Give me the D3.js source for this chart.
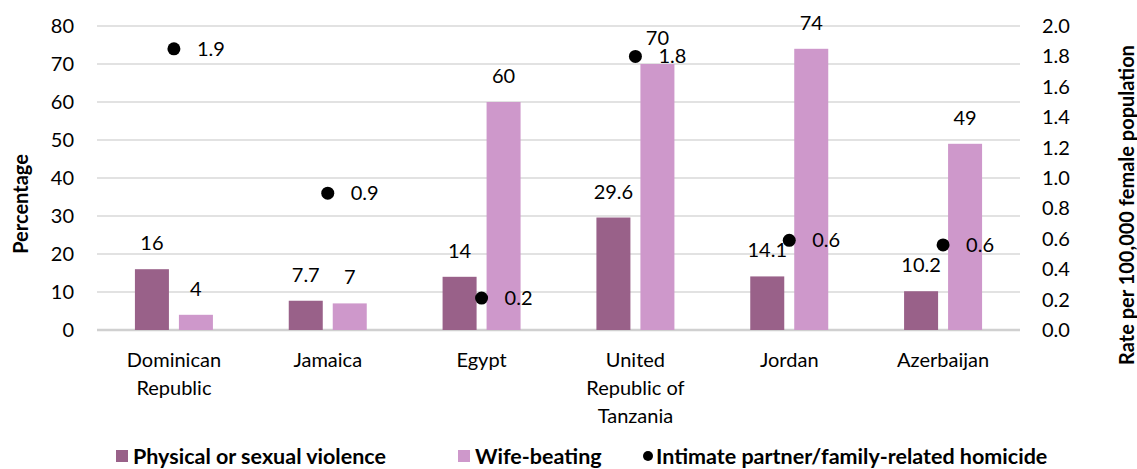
<!DOCTYPE html>
<html>
<head>
<meta charset="utf-8">
<script src="https://cdn.jsdelivr.net/npm/d3@7"></script>
<style>
  html, body { margin: 0; padding: 0; background: #fff; }
  svg { display: block; font-family: Lato, "Open Sans", sans-serif; }
</style>
</head>
<body>
<svg id="chart" width="1137" height="469"></svg>
<script>
// ---- data ----
const categories = [["Dominican", "Republic"], ["Jamaica"], ["Egypt"], ["United", "Republic of", "Tanzania"], ["Jordan"], ["Azerbaijan"]];
const seriesNames = ["Physical or sexual violence", "Wife-beating", "Intimate partner/family-related homicide"];
const physicalViolence = [16, 7.7, 14, 29.6, 14.1, 10.2];
const wifeBeating = [4, 7, 60, 70, 74, 49];
const homicideRate = [1.85, 0.9, 0.21, 1.8, 0.59, 0.56];
const leftTicks = [0, 10, 20, 30, 40, 50, 60, 70, 80];
const rightTicks = [0, 0.2, 0.4, 0.6, 0.8, 1.0, 1.2, 1.4, 1.6, 1.8, 2.0];
const colors = ["#996189", "#CE98CB", "#000000"];

// ---- layout ----
const svg = d3.select("#chart");
const plot = { left: 97, right: 1020, top: 26, bottom: 330 };
const fs = 20;

const keys = categories.map((c, i) => i);
const x0 = d3.scaleBand().domain(keys).range([plot.left, plot.right]).padding(0);
const x1 = d3.scaleBand().domain([0, 1]).range([-39, 39]).paddingInner(0.227);
const yL = d3.scaleLinear().domain([0, 80]).range([plot.bottom, plot.top]);
const yR = d3.scaleLinear().domain([0, 2]).range([plot.bottom, plot.top]);

// gridlines
svg.append("g").selectAll("line").data(leftTicks).join("line")
  .attr("x1", plot.left).attr("x2", plot.right)
  .attr("y1", d => yL(d)).attr("y2", d => yL(d))
  .attr("stroke", d => d === 0 ? "#d0d0d0" : "#d9d9d9")
  .attr("stroke-width", d => d === 0 ? 2.5 : 1.3);

// left axis
const axL = svg.append("g").attr("transform", `translate(${plot.left - 23},0)`)
  .call(d3.axisLeft(yL).tickValues(leftTicks).tickSize(0).tickPadding(0).tickFormat(d3.format("d")));
axL.select(".domain").remove();
axL.selectAll("text").attr("font-size", fs).attr("fill", "#000").attr("font-family", "Lato");

// right axis
const axR = svg.append("g").attr("transform", `translate(${plot.right + 22},0)`)
  .call(d3.axisRight(yR).tickValues(rightTicks).tickSize(0).tickPadding(0).tickFormat(d3.format(".1f")));
axR.select(".domain").remove();
axR.selectAll("text").attr("font-size", fs).attr("fill", "#000").attr("font-family", "Lato");

// axis titles
svg.append("text").attr("transform", "translate(28,204) rotate(-90)")
  .attr("text-anchor", "middle").attr("font-size", 20).attr("font-weight", "bold").text("Percentage");
svg.append("text").attr("transform", "translate(1134,205) rotate(-90)")
  .attr("text-anchor", "middle").attr("font-size", 20).attr("font-weight", "bold").text("Rate per 100,000 female population");

// bars
const barSeries = [physicalViolence, wifeBeating];
barSeries.forEach((vals, s) => {
  const g = svg.append("g");
  g.selectAll("rect").data(vals).join("rect")
    .attr("x", (d, i) => x0(i) + x0.bandwidth() / 2 + x1(s))
    .attr("width", x1.bandwidth())
    .attr("y", d => yL(d))
    .attr("height", d => yL(0) - yL(d))
    .attr("fill", colors[s]);
  g.selectAll("text").data(vals).join("text")
    .attr("x", (d, i) => x0(i) + x0.bandwidth() / 2 + x1(s) + x1.bandwidth() / 2)
    .attr("y", d => yL(d) - 19)
    .attr("text-anchor", "middle").attr("font-size", fs)
    .text(d => d);
});

// homicide dots
const dg = svg.append("g");
dg.selectAll("circle").data(homicideRate).join("circle")
  .attr("cx", (d, i) => x0(i) + x0.bandwidth() / 2)
  .attr("cy", d => yR(d)).attr("r", 6.5).attr("fill", "#000");
dg.selectAll("text").data(homicideRate).join("text")
  .attr("x", (d, i) => x0(i) + x0.bandwidth() / 2 + 23)
  .attr("y", d => yR(d) + 7)
  .attr("font-size", fs)
  .text(d => d3.format(".1f")(d));

// category labels
const cg = svg.append("g");
categories.forEach((lines, i) => {
  const t = cg.append("text").attr("text-anchor", "middle").attr("font-size", fs);
  lines.forEach((ln, j) => {
    t.append("tspan").attr("x", x0(i) + x0.bandwidth() / 2).attr("y", 367 + j * 28).text(ln);
  });
});

// legend
const legendY = 456;
const legendX = [116, 458, 644];
const lg = svg.append("g");
seriesNames.forEach((name, s) => {
  if (s < 2) {
    lg.append("rect").attr("x", legendX[s]).attr("y", legendY - 6).attr("width", 12).attr("height", 12).attr("fill", colors[s]);
  } else {
    lg.append("circle").attr("cx", legendX[s] + 4).attr("cy", legendY).attr("r", 5).attr("fill", "#000");
  }
  lg.append("text").attr("x", legendX[s] + (s < 2 ? 17 : 12)).attr("y", legendY + 7.5)
    .attr("font-size", 21.5).attr("font-weight", "bold").text(name);
});
</script>
</body>
</html>
